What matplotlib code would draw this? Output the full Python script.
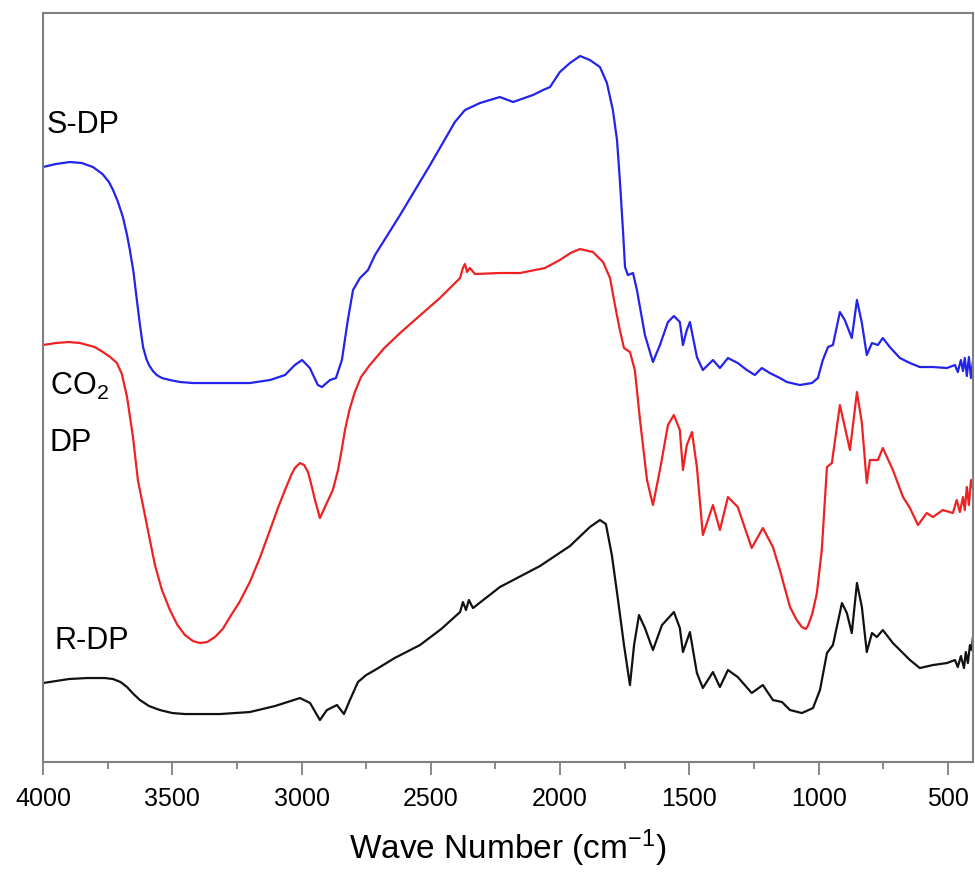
import matplotlib
matplotlib.use("Agg")
import matplotlib.pyplot as plt

plt.rcParams['font.family'] = ['Liberation Sans', 'DejaVu Sans']
plt.rcParams['mathtext.default'] = 'regular'

# FTIR spectra, offset transmittance (a.u.)
wn_s = [4000, 3950, 3896, 3850, 3807, 3770, 3745, 3729, 3710, 3691, 3675, 3664, 3650, 3637,
        3625, 3613, 3600, 3590, 3575, 3560, 3540, 3509, 3470, 3420, 3316, 3200, 3122,
        3064, 3026, 2998, 2968, 2937, 2921, 2890, 2867, 2844, 2821, 2801, 2774, 2743, 2716,
        2619, 2503, 2407, 2368, 2310, 2233, 2182, 2105, 2066, 2039, 2001, 1962, 1923, 1885,
        1846, 1819, 1796, 1780, 1769, 1757, 1749, 1738, 1718, 1703, 1672, 1641, 1614, 1583,
        1560, 1537, 1525, 1510, 1498, 1471, 1448, 1409, 1382, 1351, 1313, 1278, 1247, 1220,
        1189, 1150, 1123, 1073, 1026, 1003, 984, 964, 945, 918, 899, 872, 852, 833, 814, 794,
        771, 752, 725, 686, 647, 609, 558, 504, 473, 462, 450, 442, 435, 427, 419, 411, 404]
t_s = [595, 598, 600, 599, 595, 588, 580, 572, 560, 545, 527, 512, 490, 462,
       437, 415, 403, 397, 391, 387, 384, 382, 380, 379, 379, 379, 382,
       387, 397, 402, 394, 377, 375, 382, 384, 402, 442, 472, 484, 492, 507,
       547, 597, 640, 652, 659, 665, 660, 667, 672, 675, 690, 699, 706, 702,
       695, 679, 652, 622, 582, 532, 495, 487, 489, 472, 427, 400, 417, 440,
       446, 440, 417, 432, 440, 405, 392, 402, 394, 404, 399, 392, 387, 394,
       389, 384, 380, 377, 379, 384, 402, 415, 417, 450, 442, 424, 462, 439, 407, 419,
       417, 424, 415, 404, 399, 395, 395, 394, 397, 390, 402, 391, 404, 386, 405, 384, 400]

wn_c = [4000, 3950, 3900, 3857, 3800, 3768, 3740, 3714, 3695, 3675, 3652, 3633, 3606, 3585,
        3567, 3540, 3509, 3480, 3451, 3420, 3393, 3365, 3335, 3305, 3277, 3240, 3200, 3160,
        3122, 3090, 3064, 3040, 3026, 3006, 2990, 2975, 2960, 2948, 2929, 2906, 2879, 2859,
        2845, 2832, 2815, 2794, 2770, 2736, 2680, 2619, 2540, 2465, 2387, 2376, 2368, 2360,
        2349, 2329, 2233, 2155, 2059, 2001, 1960, 1923, 1873, 1834, 1807, 1788, 1769, 1753,
        1730, 1711, 1691, 1664, 1641, 1614, 1583, 1560, 1537, 1525, 1510, 1490, 1471, 1448,
        1409, 1382, 1351, 1313, 1259, 1216, 1177, 1150, 1111, 1085, 1065, 1050, 1042, 1025,
        1007, 988, 976, 968, 949, 918, 879, 852, 833, 814, 802, 771, 752, 713, 674, 647, 616,
        582, 558, 520, 481, 466, 454, 442, 435, 427, 419, 411, 404]
t_c = [417, 419, 420, 419, 415, 410, 405, 399, 388, 365, 325, 282, 247, 220,
       197, 172, 152, 137, 127, 121, 119, 120, 125, 133, 145, 160, 180, 205,
       232, 255, 272, 287, 294, 299, 297, 290, 275, 262, 244, 257, 272, 292,
       312, 332, 352, 370, 385, 397, 414, 429, 447, 464, 484, 494, 498, 490,
       494, 488, 489, 489, 494, 502, 509, 513, 510, 500, 484, 457, 432, 414,
       410, 392, 342, 282, 257, 292, 337, 347, 332, 292, 317, 330, 295, 227,
       257, 232, 265, 255, 214, 234, 215, 192, 155, 142, 135, 133, 136, 148,
       169, 212, 262, 295, 299, 357, 312, 370, 339, 279, 302, 302, 314, 292, 265, 254, 237,
       249, 245, 252, 249, 262, 250, 265, 252, 275, 257, 282, 274]

wn_r = [4000, 3900, 3830, 3760, 3729, 3700, 3675, 3650, 3625, 3590, 3548, 3500, 3451, 3316,
        3200, 3103, 3006, 2967, 2929, 2902, 2863, 2836, 2813, 2782, 2750, 2716, 2640, 2542,
        2460, 2387, 2376, 2364, 2353, 2337, 2233, 2078, 1962, 1885, 1846, 1823, 1800, 1776,
        1753, 1730, 1714, 1695, 1672, 1641, 1606, 1560, 1537, 1525, 1498, 1471, 1448, 1409,
        1382, 1351, 1313, 1259, 1216, 1177, 1142, 1111, 1065, 1022, 995, 968, 945, 910, 891,
        872, 852, 833, 814, 794, 775, 752, 713, 647, 609, 558, 504, 473, 462, 450, 438, 431,
        423, 415, 408, 404]
t_r = [79, 83, 84, 84, 83, 80, 75, 68, 62, 56, 52, 49, 48, 48,
       50, 56, 64, 59, 42, 52, 57, 48, 62, 80, 87, 92, 104, 117,
       133, 150, 160, 152, 162, 154, 175, 196, 216, 235, 242, 238, 207, 162,
       117, 77, 117, 147, 134, 112, 137, 150, 134, 110, 130, 89, 74, 90,
       75, 92, 85, 69, 77, 62, 60, 52, 49, 54, 72, 109, 117, 159, 149,
       129, 179, 155, 110, 129, 125, 132, 119, 102, 94, 97, 99, 102, 95, 106, 94, 110,
       99, 117, 112, 124]

fig = plt.figure(figsize=(9.75, 8.73), dpi=100)
ax = fig.add_axes([0.0441, 0.1271, 0.9539, 0.858])

ax.plot(wn_s, t_s, color='#2323ee', lw=1.6)
ax.plot(wn_c, t_c, color='#ee2222', lw=1.6)
ax.plot(wn_r, t_r, color='#111111', lw=1.6)

ax.text(3985, 637, 'S-DP', fontsize=22, va='center', ha='left')
ax.text(3973, 376, 'CO$_2$', fontsize=22, va='center', ha='left')
ax.text(3973, 319, 'DP', fontsize=22, va='center', ha='left')
ax.text(3954, 121, 'R-DP', fontsize=22, va='center', ha='left')

ax.set_xlim(4000, 403)
ax.set_ylim(0, 749)
ax.set_xticks([4000, 3500, 3000, 2500, 2000, 1500, 1000, 500])
ax.set_xticks(range(3750, 400, -500), minor=True)
ax.set_yticks([])
ax.tick_params(axis='x', which='major', direction='out', length=9, width=1.3,
               color='#808080', labelsize=18, pad=9)
ax.tick_params(axis='x', which='minor', direction='out', length=5, width=1.3,
               color='#808080')
for sp in ax.spines.values():
    sp.set_color('#808080')
    sp.set_linewidth(1.5)

ax.set_xlabel('Wave Number (cm$^{-1}$)', fontsize=24, labelpad=12)

fig.savefig('out.png', dpi=100)
